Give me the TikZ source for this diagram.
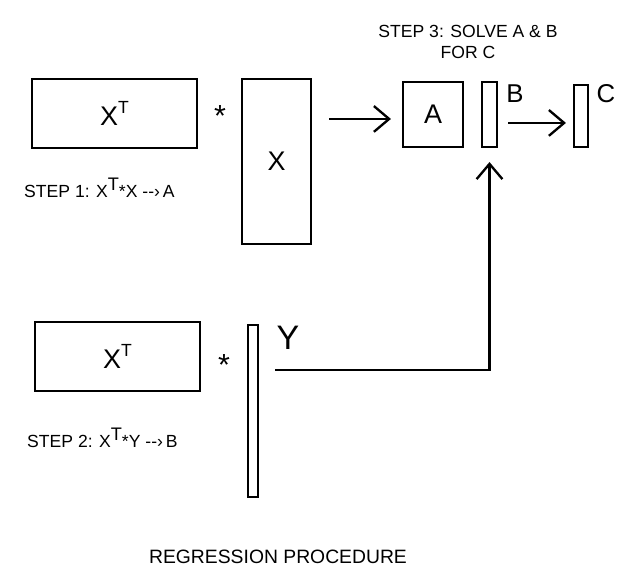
\documentclass[tikz,border=0pt]{standalone}
\usepackage{fontspec}
\setmainfont{Liberation Sans}
\usetikzlibrary{arrows.meta}
\tikzset{
  matbox/.style={rectangle,draw=black,line width=1.8pt,inner sep=0pt,font=\fontsize{23}{26}\selectfont},
  steptxt/.style={anchor=west,inner sep=0pt,font=\fontsize{15}{17}\selectfont},
  bigtxt/.style={inner sep=0pt,font=\fontsize{22}{24}\selectfont},
  startxt/.style={inner sep=0pt,font=\fontsize{26}{28}\selectfont},
  arr/.style={-{Straight Barb[length=13pt,width=22pt,line width=2pt]},line width=2pt},
}
\newcommand{\supT}{\raisebox{0.42em}{\fontsize{15}{16}\selectfont T}}
\newcommand{\stepT}{\raisebox{0.42em}{\fontsize{15.5}{16}\selectfont T}}
\begin{document}
\begin{tikzpicture}[x=0.03cm,y=-0.03cm]
  \useasboundingbox (0,0) rectangle (622,584);
  % step 1
  \node[matbox,minimum width=4.95cm,minimum height=2.07cm] (xt1) at (114.5,113.5) {X\supT};
  \node[startxt] (mul1) at (220,116) {*};
  \node[matbox,minimum width=2.07cm,minimum height=4.95cm] (x) at (276.5,161.5) {X};
  \node[steptxt] (step1) at (24,188) {STEP 1: X\stepT*X -{}-›\,A};
  % step 3
  \node[align=center,inner sep=0pt,font=\fontsize{15}{17.5}\selectfont] (step3) at (468,42) {STEP 3: SOLVE A \& B\\FOR C};
  \node[matbox,minimum width=1.8cm,minimum height=1.95cm] (a) at (433,114.5) {A};
  \node[matbox,minimum width=0.45cm,minimum height=1.95cm] (b) at (489.5,114.5) {};
  \node[bigtxt] (blbl) at (515,94) {B};
  \node[matbox,minimum width=0.42cm,minimum height=1.86cm] (c) at (581,116) {};
  \node[bigtxt] (clbl) at (606,94) {C};
  \draw[arr,shorten <=0.51cm,shorten >=0.33cm] ([yshift=-3.8pt]a.west -| x.east) -- ([yshift=-3.8pt]a.west);
  \draw[arr,shorten <=0.3cm,shorten >=0.21cm] ([yshift=-7.2pt]b.east) -- ([yshift=-7.2pt]b.east -| c.west);
  % step 2
  \node[matbox,minimum width=4.95cm,minimum height=2.07cm] (xt2) at (117.5,356.5) {X\supT};
  \node[startxt] (mul2) at (224,365) {*};
  \node[matbox,minimum width=0.3cm,minimum height=5.16cm] (y) at (253,411) {};
  \node[inner sep=0pt,font=\fontsize{29}{32}\selectfont] (ylbl) at (288,338) {Y};
  \node[steptxt] (step2) at (27,438) {STEP 2: X\stepT*Y -{}-›\,B};
  \coordinate (ystart) at (275,370);
  \draw[arr,shorten >=0.42cm] (ystart) -| (b.south);
  % caption
  \node[inner sep=0pt,font=\fontsize{16.5}{20}\selectfont] (title) at (278,557) {REGRESSION PROCEDURE};
\end{tikzpicture}
\end{document}
